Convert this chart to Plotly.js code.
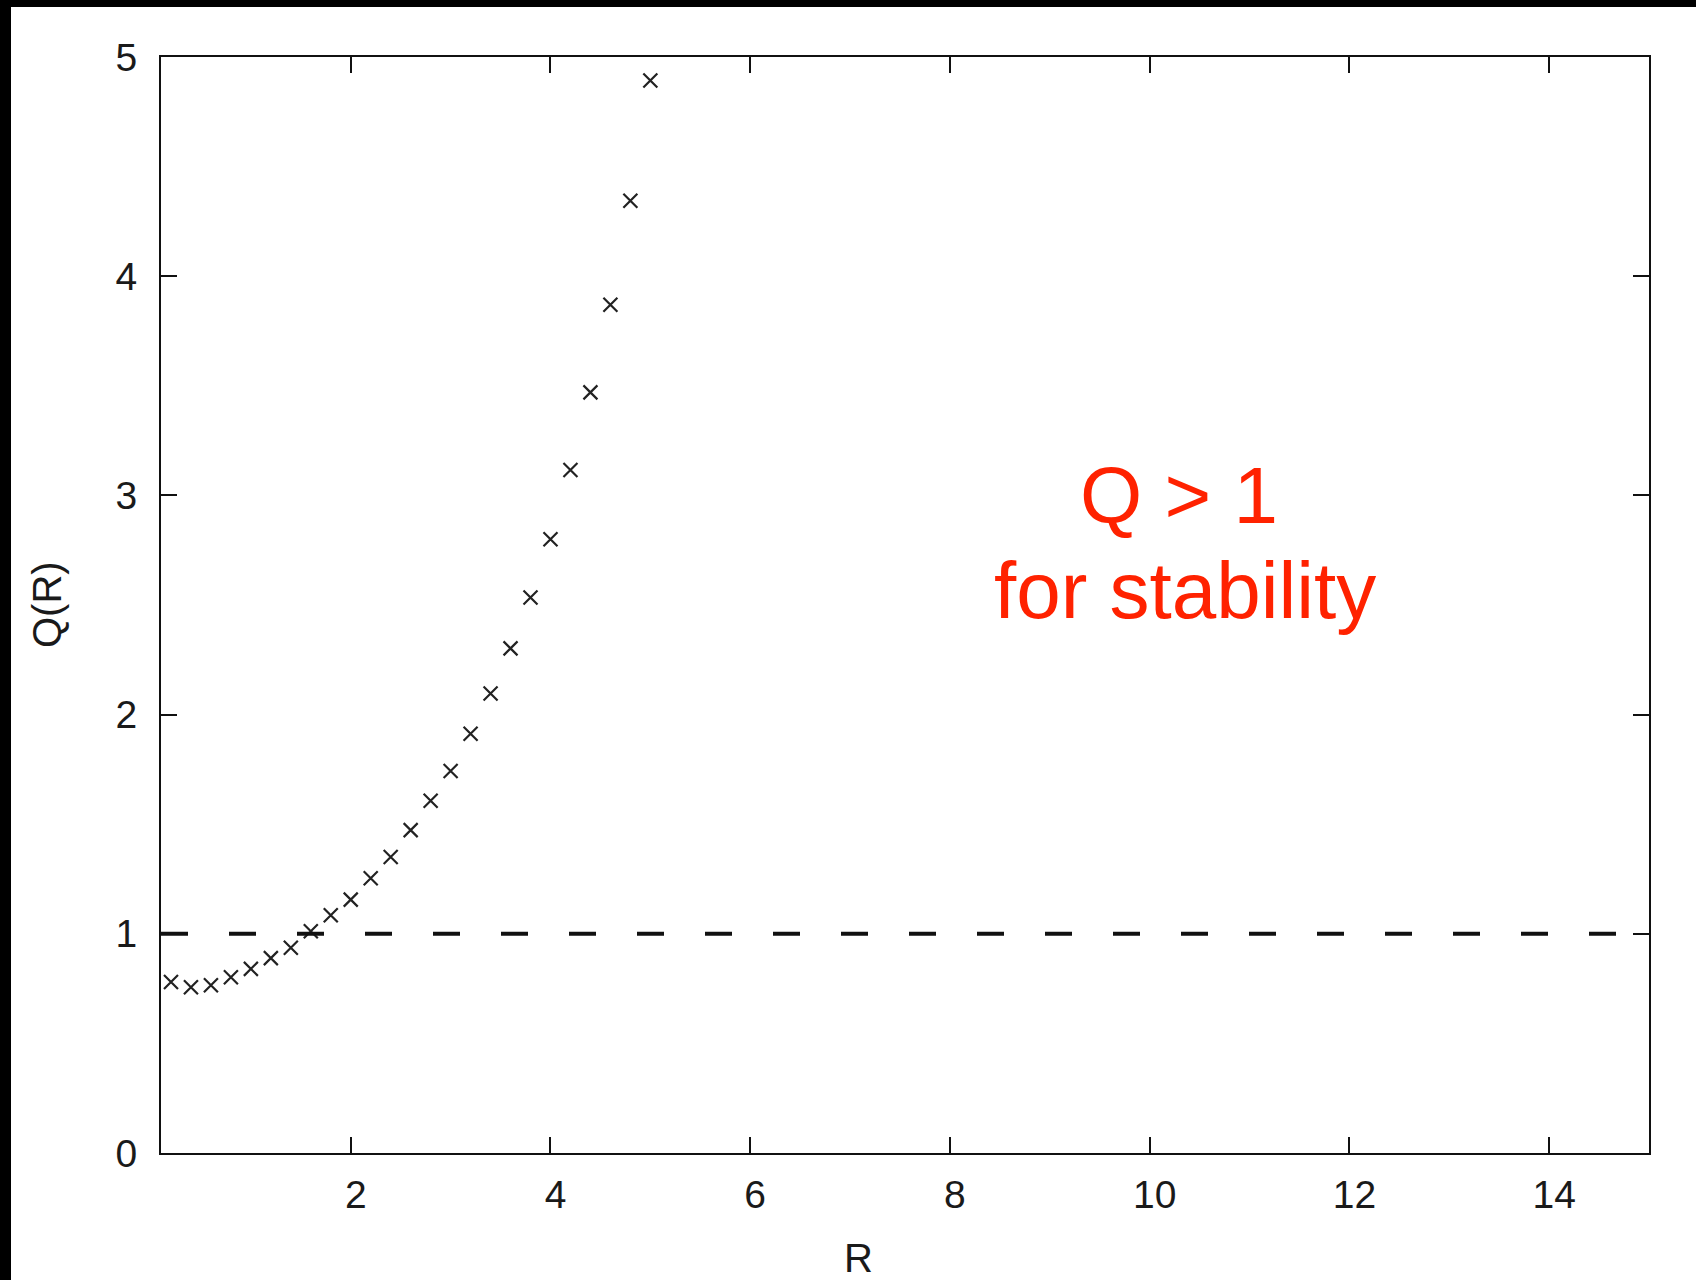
<!DOCTYPE html>
<html>
<head>
<meta charset="utf-8">
<script src="https://cdn.plot.ly/plotly-3.0.1.min.js"></script>
<style>
  html, body { margin: 0; padding: 0; background: #000; width: 1696px; height: 1280px; overflow: hidden; }
  #chart { position: absolute; left: 11px; top: 7px; width: 1685px; height: 1273px; background: #fff; }
</style>
</head>
<body>
<div id="chart"></div>
<script>
// Data
const radius = [0.2, 0.4, 0.6, 0.8, 1.0, 1.2, 1.4, 1.6, 1.8, 2.0, 2.2, 2.4, 2.6, 2.8, 3.0, 3.2, 3.4, 3.6, 3.8, 4.0, 4.2, 4.4, 4.6, 4.8, 5.0];
const qValues = [0.78, 0.756, 0.765, 0.802, 0.84, 0.889, 0.936, 1.012, 1.085, 1.156, 1.253, 1.35, 1.473, 1.607, 1.743, 1.913, 2.096, 2.302, 2.534, 2.8, 3.116, 3.47, 3.87, 4.344, 4.893];
const threshold = 1;
const xTicks = [2, 4, 6, 8, 10, 12, 14];
const yTicks = [0, 1, 2, 3, 4, 5];
const xRange = [0.1, 15];
const yRange = [0, 5];

const font = 'Liberation Sans, Arial, Helvetica, sans-serif';
const ink = '#1a1a1a';
const red = 'rgb(255,34,0)';

const trace = {
  x: radius,
  y: qValues,
  type: 'scatter',
  mode: 'markers',
  marker: { symbol: 'x-thin', size: 14, line: { width: 2.2, color: '#222' }, color: '#222' },
  hoverinfo: 'x+y',
  showlegend: false
};

const axisCommon = {
  showline: true, linecolor: '#111', linewidth: 2,
  mirror: 'ticks', ticks: 'inside', ticklen: 16, tickwidth: 2, tickcolor: '#111',
  showgrid: false, zeroline: false,
  tickfont: { family: font, size: 39, color: ink }
};

const layout = {
  width: 1685, height: 1273,
  margin: { l: 150, r: 47, t: 50, b: 127 },
  paper_bgcolor: '#fff', plot_bgcolor: '#fff',
  xaxis: Object.assign({}, axisCommon, { range: xRange, tickvals: xTicks, ticktext: xTicks.map(String), ticklabelstandoff: 6, ticklabelshift: 5 }),
  yaxis: Object.assign({}, axisCommon, { range: yRange, tickvals: yTicks, ticktext: yTicks.map(String), ticklabelstandoff: 14 }),
  shapes: [{
    type: 'line', xref: 'paper', x0: 0, x1: 1, yref: 'y', y0: threshold, y1: threshold,
    line: { color: '#111', width: 4, dash: '27px,41px' }
  }],
  annotations: [
    { text: 'Q > 1', x: 10.29, y: 3.0, xref: 'x', yref: 'y', xanchor: 'center', yanchor: 'middle', showarrow: false,
      font: { family: font, size: 80, color: red } },
    { text: 'for stability', x: 10.355, y: 2.565, xref: 'x', yref: 'y', xanchor: 'center', yanchor: 'middle', showarrow: false,
      font: { family: font, size: 80, color: red } },
    { text: 'R', x: 0.469, y: -0.096, xref: 'paper', yref: 'paper', xanchor: 'center', yanchor: 'middle', showarrow: false,
      font: { family: font, size: 40, color: ink } },
    { text: 'Q(R)', x: -0.0766, y: 0.5, xref: 'paper', yref: 'paper', xanchor: 'center', yanchor: 'middle', textangle: -90, showarrow: false,
      font: { family: font, size: 40, color: ink } }
  ]
};

Plotly.newPlot('chart', [trace], layout, { displayModeBar: false, staticPlot: true });
</script>
</body>
</html>
